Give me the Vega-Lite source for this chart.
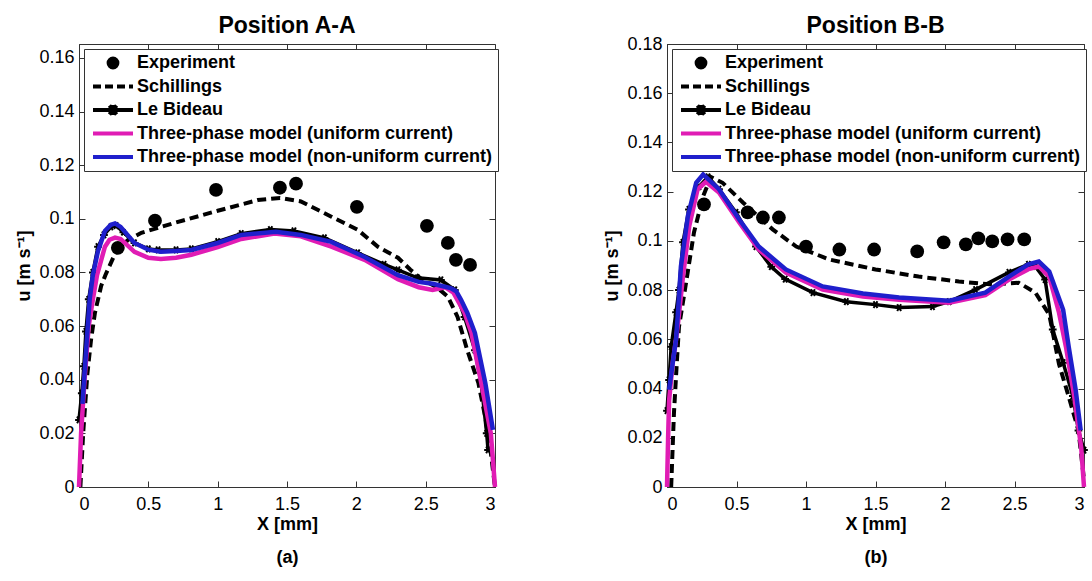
{
  "$schema": "https://vega.github.io/schema/vega-lite/v6.json",
  "padding": {"left": 15, "top": 14, "right": 0, "bottom": 2},
  "spacing": 98,
  "background": "white",
  "config": {
    "view": {"stroke": "#333", "strokeWidth": 1},
    "axis": {"labelFont": "Liberation Sans", "labelFontSize": 18, "labelColor": "black", "titleFont": "Liberation Sans", "titleFontSize": 18, "titleFontWeight": "bold", "titleColor": "black", "domainColor": "#333", "tickColor": "#333", "tickSize": -6, "grid": false},
    "title": {"font": "Liberation Sans", "fontSize": 23, "fontWeight": "bold", "color": "black", "anchor": "middle", "frame": "group"}
  },
  "data": {"values": [
    {"p":"A","s":"E","x":0.28,"u":0.0892},{"p":"A","s":"E","x":0.548,"u":0.0993},{"p":"A","s":"E","x":0.988,"u":0.1108},{"p":"A","s":"E","x":1.449,"u":0.1116},{"p":"A","s":"E","x":1.565,"u":0.1131},{"p":"A","s":"E","x":2.004,"u":0.1045},{"p":"A","s":"E","x":2.509,"u":0.0974},{"p":"A","s":"E","x":2.66,"u":0.091},{"p":"A","s":"E","x":2.718,"u":0.0847},{"p":"A","s":"E","x":2.82,"u":0.0828},
    {"p":"A","s":"S","x":0.01,"u":0.0},{"p":"A","s":"S","x":0.03,"u":0.02},{"p":"A","s":"S","x":0.06,"u":0.042},{"p":"A","s":"S","x":0.087,"u":0.055},{"p":"A","s":"S","x":0.115,"u":0.065},{"p":"A","s":"S","x":0.16,"u":0.075},{"p":"A","s":"S","x":0.19,"u":0.079},{"p":"A","s":"S","x":0.26,"u":0.087},{"p":"A","s":"S","x":0.35,"u":0.092},{"p":"A","s":"S","x":0.45,"u":0.0948},{"p":"A","s":"S","x":0.69,"u":0.0985},{"p":"A","s":"S","x":1.0,"u":0.103},{"p":"A","s":"S","x":1.29,"u":0.107},{"p":"A","s":"S","x":1.45,"u":0.1078},{"p":"A","s":"S","x":1.6,"u":0.1065},{"p":"A","s":"S","x":1.82,"u":0.1008},{"p":"A","s":"S","x":2.01,"u":0.0959},{"p":"A","s":"S","x":2.156,"u":0.0896},{"p":"A","s":"S","x":2.3,"u":0.0855},{"p":"A","s":"S","x":2.39,"u":0.081},{"p":"A","s":"S","x":2.47,"u":0.0775},{"p":"A","s":"S","x":2.58,"u":0.0745},{"p":"A","s":"S","x":2.66,"u":0.071},{"p":"A","s":"S","x":2.73,"u":0.0634},{"p":"A","s":"S","x":2.8,"u":0.051},{"p":"A","s":"S","x":2.88,"u":0.0388},{"p":"A","s":"S","x":2.93,"u":0.026},{"p":"A","s":"S","x":2.97,"u":0.0127},{"p":"A","s":"S","x":3.0,"u":0.0},
    {"p":"A","s":"L","x":0.0,"u":0.025},{"p":"A","s":"L","x":0.02,"u":0.035},{"p":"A","s":"L","x":0.035,"u":0.045},{"p":"A","s":"L","x":0.05,"u":0.058},{"p":"A","s":"L","x":0.07,"u":0.07},{"p":"A","s":"L","x":0.1,"u":0.08},{"p":"A","s":"L","x":0.137,"u":0.0896},{"p":"A","s":"L","x":0.18,"u":0.094},{"p":"A","s":"L","x":0.23,"u":0.097},{"p":"A","s":"L","x":0.267,"u":0.0975},{"p":"A","s":"L","x":0.32,"u":0.095},{"p":"A","s":"L","x":0.4,"u":0.091},{"p":"A","s":"L","x":0.5,"u":0.0888},{"p":"A","s":"L","x":0.57,"u":0.0884},{"p":"A","s":"L","x":0.7,"u":0.0884},{"p":"A","s":"L","x":0.81,"u":0.0888},{"p":"A","s":"L","x":1.0,"u":0.0915},{"p":"A","s":"L","x":1.17,"u":0.0945},{"p":"A","s":"L","x":1.38,"u":0.096},{"p":"A","s":"L","x":1.55,"u":0.0955},{"p":"A","s":"L","x":1.77,"u":0.0929},{"p":"A","s":"L","x":2.01,"u":0.0873},{"p":"A","s":"L","x":2.2,"u":0.083},{"p":"A","s":"L","x":2.3,"u":0.081},{"p":"A","s":"L","x":2.44,"u":0.078},{"p":"A","s":"L","x":2.61,"u":0.0772},{"p":"A","s":"L","x":2.71,"u":0.0735},{"p":"A","s":"L","x":2.78,"u":0.0634},{"p":"A","s":"L","x":2.855,"u":0.051},{"p":"A","s":"L","x":2.9,"u":0.0388},{"p":"A","s":"L","x":2.94,"u":0.02},{"p":"A","s":"L","x":2.95,"u":0.0138},
    {"p":"A","s":"U","x":0.0,"u":0.0},{"p":"A","s":"U","x":0.015,"u":0.02},{"p":"A","s":"U","x":0.04,"u":0.04},{"p":"A","s":"U","x":0.07,"u":0.06},{"p":"A","s":"U","x":0.1,"u":0.07},{"p":"A","s":"U","x":0.13,"u":0.079},{"p":"A","s":"U","x":0.187,"u":0.0896},{"p":"A","s":"U","x":0.22,"u":0.0922},{"p":"A","s":"U","x":0.26,"u":0.093},{"p":"A","s":"U","x":0.3,"u":0.0925},{"p":"A","s":"U","x":0.4,"u":0.0877},{"p":"A","s":"U","x":0.5,"u":0.0855},{"p":"A","s":"U","x":0.59,"u":0.085},{"p":"A","s":"U","x":0.7,"u":0.0855},{"p":"A","s":"U","x":0.81,"u":0.0866},{"p":"A","s":"U","x":1.0,"u":0.0895},{"p":"A","s":"U","x":1.17,"u":0.0925},{"p":"A","s":"U","x":1.41,"u":0.0945},{"p":"A","s":"U","x":1.6,"u":0.0935},{"p":"A","s":"U","x":1.82,"u":0.0896},{"p":"A","s":"U","x":2.06,"u":0.0847},{"p":"A","s":"U","x":2.3,"u":0.0775},{"p":"A","s":"U","x":2.45,"u":0.0745},{"p":"A","s":"U","x":2.55,"u":0.0735},{"p":"A","s":"U","x":2.64,"u":0.0745},{"p":"A","s":"U","x":2.7,"u":0.0725},{"p":"A","s":"U","x":2.78,"u":0.065},{"p":"A","s":"U","x":2.83,"u":0.0575},{"p":"A","s":"U","x":2.9,"u":0.039},{"p":"A","s":"U","x":2.97,"u":0.02},{"p":"A","s":"U","x":3.0,"u":0.0},
    {"p":"A","s":"N","x":0.025,"u":0.031},{"p":"A","s":"N","x":0.05,"u":0.05},{"p":"A","s":"N","x":0.077,"u":0.07},{"p":"A","s":"N","x":0.1,"u":0.079},{"p":"A","s":"N","x":0.137,"u":0.088},{"p":"A","s":"N","x":0.187,"u":0.0955},{"p":"A","s":"N","x":0.23,"u":0.0978},{"p":"A","s":"N","x":0.26,"u":0.0983},{"p":"A","s":"N","x":0.3,"u":0.097},{"p":"A","s":"N","x":0.4,"u":0.091},{"p":"A","s":"N","x":0.5,"u":0.0885},{"p":"A","s":"N","x":0.59,"u":0.0877},{"p":"A","s":"N","x":0.7,"u":0.088},{"p":"A","s":"N","x":0.81,"u":0.0884},{"p":"A","s":"N","x":1.0,"u":0.091},{"p":"A","s":"N","x":1.17,"u":0.094},{"p":"A","s":"N","x":1.42,"u":0.0952},{"p":"A","s":"N","x":1.6,"u":0.094},{"p":"A","s":"N","x":1.82,"u":0.0914},{"p":"A","s":"N","x":2.06,"u":0.0858},{"p":"A","s":"N","x":2.3,"u":0.079},{"p":"A","s":"N","x":2.45,"u":0.0765},{"p":"A","s":"N","x":2.55,"u":0.0758},{"p":"A","s":"N","x":2.68,"u":0.0742},{"p":"A","s":"N","x":2.72,"u":0.073},{"p":"A","s":"N","x":2.755,"u":0.0698},{"p":"A","s":"N","x":2.8,"u":0.065},{"p":"A","s":"N","x":2.855,"u":0.0575},{"p":"A","s":"N","x":2.93,"u":0.0388},{"p":"A","s":"N","x":2.985,"u":0.0213},
    {"p":"B","s":"E","x":0.266,"u":0.1148},{"p":"B","s":"E","x":0.58,"u":0.1116},{"p":"B","s":"E","x":0.69,"u":0.1095},{"p":"B","s":"E","x":0.805,"u":0.1095},{"p":"B","s":"E","x":1.0,"u":0.0977},{"p":"B","s":"E","x":1.24,"u":0.0965},{"p":"B","s":"E","x":1.49,"u":0.0965},{"p":"B","s":"E","x":1.8,"u":0.0957},{"p":"B","s":"E","x":1.99,"u":0.0994},{"p":"B","s":"E","x":2.15,"u":0.0986},{"p":"B","s":"E","x":2.24,"u":0.101},{"p":"B","s":"E","x":2.34,"u":0.0998},{"p":"B","s":"E","x":2.45,"u":0.1006},{"p":"B","s":"E","x":2.57,"u":0.1006},
    {"p":"B","s":"S","x":0.03,"u":0.0},{"p":"B","s":"S","x":0.05,"u":0.03},{"p":"B","s":"S","x":0.07,"u":0.05},{"p":"B","s":"S","x":0.086,"u":0.065},{"p":"B","s":"S","x":0.137,"u":0.083},{"p":"B","s":"S","x":0.194,"u":0.1034},{"p":"B","s":"S","x":0.259,"u":0.118},{"p":"B","s":"S","x":0.316,"u":0.126},{"p":"B","s":"S","x":0.4,"u":0.1236},{"p":"B","s":"S","x":0.546,"u":0.1156},{"p":"B","s":"S","x":0.76,"u":0.1047},{"p":"B","s":"S","x":0.93,"u":0.0977},{"p":"B","s":"S","x":1.17,"u":0.0924},{"p":"B","s":"S","x":1.5,"u":0.0884},{"p":"B","s":"S","x":1.81,"u":0.0855},{"p":"B","s":"S","x":2.1,"u":0.0835},{"p":"B","s":"S","x":2.34,"u":0.0823},{"p":"B","s":"S","x":2.53,"u":0.083},{"p":"B","s":"S","x":2.65,"u":0.079},{"p":"B","s":"S","x":2.75,"u":0.07},{"p":"B","s":"S","x":2.82,"u":0.05},{"p":"B","s":"S","x":2.89,"u":0.0367},{"p":"B","s":"S","x":2.96,"u":0.023},{"p":"B","s":"S","x":3.0,"u":0.003},
    {"p":"B","s":"L","x":0.0,"u":0.031},{"p":"B","s":"L","x":0.015,"u":0.0435},{"p":"B","s":"L","x":0.03,"u":0.057},{"p":"B","s":"L","x":0.065,"u":0.071},{"p":"B","s":"L","x":0.086,"u":0.08},{"p":"B","s":"L","x":0.115,"u":0.0994},{"p":"B","s":"L","x":0.158,"u":0.1128},{"p":"B","s":"L","x":0.23,"u":0.122},{"p":"B","s":"L","x":0.295,"u":0.126},{"p":"B","s":"L","x":0.374,"u":0.121},{"p":"B","s":"L","x":0.496,"u":0.1116},{"p":"B","s":"L","x":0.64,"u":0.0977},{"p":"B","s":"L","x":0.75,"u":0.0895},{"p":"B","s":"L","x":0.85,"u":0.0845},{"p":"B","s":"L","x":1.05,"u":0.079},{"p":"B","s":"L","x":1.29,"u":0.0753},{"p":"B","s":"L","x":1.5,"u":0.0741},{"p":"B","s":"L","x":1.67,"u":0.0729},{"p":"B","s":"L","x":1.91,"u":0.0733},{"p":"B","s":"L","x":2.03,"u":0.0753},{"p":"B","s":"L","x":2.22,"u":0.0802},{"p":"B","s":"L","x":2.46,"u":0.0872},{"p":"B","s":"L","x":2.6,"u":0.0905},{"p":"B","s":"L","x":2.65,"u":0.0896},{"p":"B","s":"L","x":2.72,"u":0.0843},{"p":"B","s":"L","x":2.775,"u":0.064},{"p":"B","s":"L","x":2.85,"u":0.0505},{"p":"B","s":"L","x":2.92,"u":0.037},{"p":"B","s":"L","x":2.96,"u":0.023},{"p":"B","s":"L","x":3.0,"u":0.015},
    {"p":"B","s":"U","x":0.0,"u":0.0},{"p":"B","s":"U","x":0.008,"u":0.02},{"p":"B","s":"U","x":0.015,"u":0.035},{"p":"B","s":"U","x":0.04,"u":0.05},{"p":"B","s":"U","x":0.065,"u":0.06},{"p":"B","s":"U","x":0.08,"u":0.067},{"p":"B","s":"U","x":0.115,"u":0.0855},{"p":"B","s":"U","x":0.16,"u":0.106},{"p":"B","s":"U","x":0.22,"u":0.121},{"p":"B","s":"U","x":0.28,"u":0.124},{"p":"B","s":"U","x":0.374,"u":0.1197},{"p":"B","s":"U","x":0.52,"u":0.1075},{"p":"B","s":"U","x":0.66,"u":0.0965},{"p":"B","s":"U","x":0.855,"u":0.0871},{"p":"B","s":"U","x":1.12,"u":0.0802},{"p":"B","s":"U","x":1.41,"u":0.0774},{"p":"B","s":"U","x":1.67,"u":0.0761},{"p":"B","s":"U","x":2.03,"u":0.0749},{"p":"B","s":"U","x":2.29,"u":0.078},{"p":"B","s":"U","x":2.46,"u":0.0843},{"p":"B","s":"U","x":2.6,"u":0.0885},{"p":"B","s":"U","x":2.675,"u":0.0896},{"p":"B","s":"U","x":2.75,"u":0.0855},{"p":"B","s":"U","x":2.82,"u":0.0709},{"p":"B","s":"U","x":2.87,"u":0.057},{"p":"B","s":"U","x":2.93,"u":0.0367},{"p":"B","s":"U","x":2.98,"u":0.016},{"p":"B","s":"U","x":3.0,"u":0.0},
    {"p":"B","s":"N","x":0.015,"u":0.0395},{"p":"B","s":"N","x":0.04,"u":0.05},{"p":"B","s":"N","x":0.065,"u":0.06},{"p":"B","s":"N","x":0.08,"u":0.072},{"p":"B","s":"N","x":0.1,"u":0.0896},{"p":"B","s":"N","x":0.15,"u":0.11},{"p":"B","s":"N","x":0.21,"u":0.1236},{"p":"B","s":"N","x":0.26,"u":0.127},{"p":"B","s":"N","x":0.374,"u":0.121},{"p":"B","s":"N","x":0.52,"u":0.1087},{"p":"B","s":"N","x":0.66,"u":0.0977},{"p":"B","s":"N","x":0.855,"u":0.0884},{"p":"B","s":"N","x":1.12,"u":0.0815},{"p":"B","s":"N","x":1.41,"u":0.0786},{"p":"B","s":"N","x":1.67,"u":0.077},{"p":"B","s":"N","x":2.03,"u":0.0757},{"p":"B","s":"N","x":2.29,"u":0.079},{"p":"B","s":"N","x":2.46,"u":0.0855},{"p":"B","s":"N","x":2.6,"u":0.0905},{"p":"B","s":"N","x":2.675,"u":0.0916},{"p":"B","s":"N","x":2.75,"u":0.0876},{"p":"B","s":"N","x":2.85,"u":0.072},{"p":"B","s":"N","x":2.89,"u":0.057},{"p":"B","s":"N","x":2.94,"u":0.0395},{"p":"B","s":"N","x":2.976,"u":0.023}
  ]},
  "hconcat": [
    {
      "title": {"text": "Position A-A", "offset": 6},
      "width": 416, "height": 443,
      "transform": [{"filter": "datum.p == 'A'"}],
      "resolve": {"axis": {"x": "independent", "y": "independent"}},
      "layer": [
        {"transform": [{"filter": "datum.s == 'E'"}],
         "mark": {"type": "circle", "size": 190, "color": "black", "opacity": 1},
         "encoding": {
           "x": {"field": "x", "type": "quantitative", "scale": {"domain": [0, 3], "nice": false}, "axis": {"orient": "bottom", "values": [0, 0.5, 1, 1.5, 2, 2.5, 3], "format": ".1~f", "labelPadding": 14, "title": ["X [mm]", "(a)"], "titleLineHeight": 33, "titlePadding": 2}},
           "y": {"field": "u", "type": "quantitative", "scale": {"domain": [0, 0.1652], "nice": false}, "axis": {"orient": "left", "values": [0, 0.02, 0.04, 0.06, 0.08, 0.1, 0.12, 0.14, 0.16], "format": ".2~f", "labelPadding": 11, "title": "u [m s\u207B\u00B9]", "titlePadding": 5}}
         }},
        {"transform": [{"filter": "datum.s == 'S'"}],
         "mark": {"type": "line", "strokeWidth": 4, "strokeDash": [9, 5]},
         "encoding": {
           "x": {"field": "x", "type": "quantitative", "scale": {"domain": [0, 3], "nice": false}, "axis": {"orient": "top", "values": [0, 0.5, 1, 1.5, 2, 2.5, 3], "labels": false, "domain": false, "title": null}},
           "y": {"field": "u", "type": "quantitative", "scale": {"domain": [0, 0.1652], "nice": false}, "axis": {"orient": "right", "values": [0, 0.02, 0.04, 0.06, 0.08, 0.1, 0.12, 0.14, 0.16], "labels": false, "domain": false, "title": null}},
           "color": {"field": "s", "type": "nominal", "scale": {"domain": ["E", "S", "L", "U", "N"], "range": ["black", "black", "black", "#e01cb4", "#1f1fcc"]},
             "legend": {"title": null, "orient": "top-left", "offset": 5, "labelFont": "Liberation Sans", "labelFontSize": 18, "labelFontWeight": "bold", "labelColor": "black", "labelLimit": 600, "labelOffset": 2, "symbolOffset": 2,
               "labelExpr": "datum.value == 'E' ? 'Experiment' : datum.value == 'S' ? 'Schillings' : datum.value == 'L' ? 'Le Bideau' : datum.value == 'U' ? 'Three-phase model (uniform current)' : 'Three-phase model (non-uniform current)'",
               "symbolType": "stroke", "symbolSize": 1600, "symbolStrokeWidth": 4, "clipHeight": 18, "rowPadding": 5.5, "padding": 5, "strokeColor": "#333", "fillColor": "white",
               "encode": {"symbols": {"update": {
                 "shape": {"signal": "datum.value == 'E' ? 'M-0.22,0A0.22,0.22 0 1,0 0.22,0A0.22,0.22 0 1,0 -0.22,0Z' : datum.value == 'L' ? 'M-1,0L1,0M-0.18,-0.22L0.18,0.22M-0.18,0.22L0.18,-0.22M0,-0.25L0,0.25' : 'stroke'"},
                 "fill": {"signal": "datum.value == 'E' ? 'black' : 'transparent'"},
                 "strokeDash": {"signal": "datum.value == 'S' ? [8, 4] : []"}
               }}}}}
         }},
        {"transform": [{"filter": "datum.s == 'L'"}],
         "mark": {"type": "line", "strokeWidth": 3.5, "color": "black"},
         "encoding": {
           "x": {"field": "x", "type": "quantitative", "axis": null},
           "y": {"field": "u", "type": "quantitative", "axis": null}
         }},
        {"transform": [{"filter": "datum.s == 'L'"}],
         "mark": {"type": "point", "shape": "M-1,0L1,0M-0.5,-0.87L0.5,0.87M-0.5,0.87L0.5,-0.87", "size": 60, "strokeWidth": 2, "color": "black", "opacity": 1, "filled": false},
         "encoding": {
           "x": {"field": "x", "type": "quantitative", "axis": null},
           "y": {"field": "u", "type": "quantitative", "axis": null}
         }},
        {"transform": [{"filter": "datum.s == 'U'"}],
         "mark": {"type": "line", "strokeWidth": 4.5, "color": "#e01cb4"},
         "encoding": {
           "x": {"field": "x", "type": "quantitative", "axis": null},
           "y": {"field": "u", "type": "quantitative", "axis": null}
         }},
        {"transform": [{"filter": "datum.s == 'N'"}],
         "mark": {"type": "line", "strokeWidth": 4.5, "color": "#1f1fcc"},
         "encoding": {
           "x": {"field": "x", "type": "quantitative", "axis": null},
           "y": {"field": "u", "type": "quantitative", "axis": null}
         }}
      ]
    },
    {
      "title": {"text": "Position B-B", "offset": -3},
      "width": 417, "height": 443,
      "transform": [{"filter": "datum.p == 'B'"}],
      "resolve": {"axis": {"x": "independent", "y": "independent"}},
      "layer": [
        {"transform": [{"filter": "datum.s == 'E'"}],
         "mark": {"type": "circle", "size": 190, "color": "black", "opacity": 1},
         "encoding": {
           "x": {"field": "x", "type": "quantitative", "scale": {"domain": [0, 3], "nice": false}, "axis": {"orient": "bottom", "values": [0, 0.5, 1, 1.5, 2, 2.5, 3], "format": ".1~f", "labelPadding": 14, "title": ["X [mm]", "(b)"], "titleLineHeight": 33, "titlePadding": 2}},
           "y": {"field": "u", "type": "quantitative", "scale": {"domain": [0, 0.18], "nice": false}, "axis": {"orient": "left", "values": [0, 0.02, 0.04, 0.06, 0.08, 0.1, 0.12, 0.14, 0.16, 0.18], "format": ".2~f", "labelPadding": 11, "title": "u [m s\u207B\u00B9]", "titlePadding": 5}}
         }},
        {"transform": [{"filter": "datum.s == 'S'"}],
         "mark": {"type": "line", "strokeWidth": 4, "strokeDash": [9, 5]},
         "encoding": {
           "x": {"field": "x", "type": "quantitative", "scale": {"domain": [0, 3], "nice": false}, "axis": {"orient": "top", "values": [0, 0.5, 1, 1.5, 2, 2.5, 3], "labels": false, "domain": false, "title": null}},
           "y": {"field": "u", "type": "quantitative", "scale": {"domain": [0, 0.18], "nice": false}, "axis": {"orient": "right", "values": [0, 0.02, 0.04, 0.06, 0.08, 0.1, 0.12, 0.14, 0.16, 0.18], "labels": false, "domain": false, "title": null}},
           "color": {"field": "s", "type": "nominal", "scale": {"domain": ["E", "S", "L", "U", "N"], "range": ["black", "black", "black", "#e01cb4", "#1f1fcc"]},
             "legend": {"title": null, "orient": "top-left", "offset": 5, "labelFont": "Liberation Sans", "labelFontSize": 18, "labelFontWeight": "bold", "labelColor": "black", "labelLimit": 600, "labelOffset": 2, "symbolOffset": 2,
               "labelExpr": "datum.value == 'E' ? 'Experiment' : datum.value == 'S' ? 'Schillings' : datum.value == 'L' ? 'Le Bideau' : datum.value == 'U' ? 'Three-phase model (uniform current)' : 'Three-phase model (non-uniform current)'",
               "symbolType": "stroke", "symbolSize": 1600, "symbolStrokeWidth": 4, "clipHeight": 18, "rowPadding": 5.5, "padding": 5, "strokeColor": "#333", "fillColor": "white",
               "encode": {"symbols": {"update": {
                 "shape": {"signal": "datum.value == 'E' ? 'M-0.22,0A0.22,0.22 0 1,0 0.22,0A0.22,0.22 0 1,0 -0.22,0Z' : datum.value == 'L' ? 'M-1,0L1,0M-0.18,-0.22L0.18,0.22M-0.18,0.22L0.18,-0.22M0,-0.25L0,0.25' : 'stroke'"},
                 "fill": {"signal": "datum.value == 'E' ? 'black' : 'transparent'"},
                 "strokeDash": {"signal": "datum.value == 'S' ? [8, 4] : []"}
               }}}}}
         }},
        {"transform": [{"filter": "datum.s == 'L'"}],
         "mark": {"type": "line", "strokeWidth": 3.5, "color": "black"},
         "encoding": {
           "x": {"field": "x", "type": "quantitative", "axis": null},
           "y": {"field": "u", "type": "quantitative", "axis": null}
         }},
        {"transform": [{"filter": "datum.s == 'L'"}],
         "mark": {"type": "point", "shape": "M-1,0L1,0M-0.5,-0.87L0.5,0.87M-0.5,0.87L0.5,-0.87", "size": 60, "strokeWidth": 2, "color": "black", "opacity": 1, "filled": false},
         "encoding": {
           "x": {"field": "x", "type": "quantitative", "axis": null},
           "y": {"field": "u", "type": "quantitative", "axis": null}
         }},
        {"transform": [{"filter": "datum.s == 'U'"}],
         "mark": {"type": "line", "strokeWidth": 4.5, "color": "#e01cb4"},
         "encoding": {
           "x": {"field": "x", "type": "quantitative", "axis": null},
           "y": {"field": "u", "type": "quantitative", "axis": null}
         }},
        {"transform": [{"filter": "datum.s == 'N'"}],
         "mark": {"type": "line", "strokeWidth": 4.5, "color": "#1f1fcc"},
         "encoding": {
           "x": {"field": "x", "type": "quantitative", "axis": null},
           "y": {"field": "u", "type": "quantitative", "axis": null}
         }}
      ]
    }
  ],
  "resolve": {"scale": {"x": "independent", "y": "independent", "color": "independent"}, "legend": {"color": "independent"}}
}
